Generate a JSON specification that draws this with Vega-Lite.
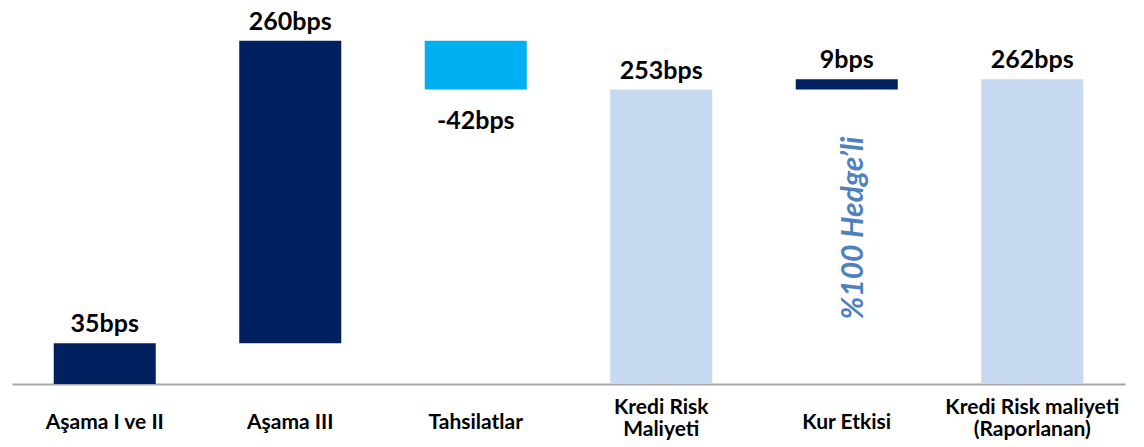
{
  "$schema": "https://vega.github.io/schema/vega-lite/v6.json",
  "autosize": "none",
  "width": 1113,
  "height": 384,
  "padding": {"left": 12, "top": 0, "right": 19, "bottom": 63},
  "background": "white",
  "config": {
    "view": {"stroke": null},
    "font": "Lato"
  },
  "datasets": {
    "steps": [
      {"cat": "Aşama I ve II", "start": 0, "end": 35, "value": 35, "kind": "change"},
      {"cat": "Aşama III", "start": 35, "end": 295, "value": 260, "kind": "change"},
      {"cat": "Tahsilatlar", "start": 295, "end": 253, "value": -42, "kind": "recovery"},
      {"cat": "Kredi Risk\nMaliyeti", "start": 0, "end": 253, "value": 253, "kind": "total"},
      {"cat": "Kur Etkisi", "start": 253, "end": 262, "value": 9, "kind": "change"},
      {"cat": "Kredi Risk maliyeti\n(Raporlanan)", "start": 0, "end": 262, "value": 262, "kind": "total"}
    ],
    "notes": [
      {"cat": "Kur Etkisi", "note": "%100 Hedge’li", "at": 134}
    ]
  },
  "data": {"name": "steps"},
  "transform": [{"calculate": "datum.value + 'bps'", "as": "label"}],
  "encoding": {
    "x": {
      "field": "cat",
      "type": "nominal",
      "sort": null,
      "scale": {"paddingInner": 0.45, "paddingOuter": 0.225},
      "axis": {
        "title": null,
        "labelAngle": 0,
        "labelExpr": "split(datum.label, '\\n')",
        "labelFont": "Lato",
        "labelFontWeight": "bold",
        "labelFontSize": 21,
        "labelColor": "#000000",
        "labelBaseline": "middle",
        "labelPadding": {
          "condition": {"test": "indexof(datum.value, '\\n') >= 0", "value": 23},
          "value": 38
        },
        "labelLineHeight": 22,
        "labelLimit": 300,
        "ticks": false,
        "domainColor": "#a6a6a6",
        "domainWidth": 2,
        "grid": false
      }
    }
  },
  "layer": [
    {
      "mark": {"type": "bar"},
      "encoding": {
        "y": {
          "field": "start",
          "type": "quantitative",
          "scale": {"domain": [0, 330], "nice": false},
          "axis": null
        },
        "y2": {"field": "end"},
        "color": {
          "field": "kind",
          "type": "nominal",
          "scale": {
            "domain": ["change", "recovery", "total"],
            "range": ["#002060", "#00B0F0", "#C6D9F0"]
          },
          "legend": null
        }
      }
    },
    {
      "transform": [{"filter": "datum.value >= 0"}],
      "mark": {
        "type": "text",
        "baseline": "bottom",
        "dy": -6,
        "font": "Lato",
        "fontWeight": "bold",
        "fontSize": 25,
        "color": "#000000"
      },
      "encoding": {
        "y": {"field": "end", "type": "quantitative"},
        "text": {"field": "label"}
      }
    },
    {
      "transform": [{"filter": "datum.value < 0"}],
      "mark": {
        "type": "text",
        "baseline": "top",
        "dy": 19,
        "font": "Lato",
        "fontWeight": "bold",
        "fontSize": 25,
        "color": "#000000"
      },
      "encoding": {
        "y": {"field": "end", "type": "quantitative"},
        "text": {"field": "label"}
      }
    },
    {
      "data": {"name": "notes"},
      "mark": {
        "type": "text",
        "angle": 270,
        "baseline": "middle",
        "align": "center",
        "dy": 7,
        "font": "Lato",
        "fontWeight": "bold",
        "fontStyle": "italic",
        "fontSize": 30,
        "color": "#4F81BD"
      },
      "encoding": {
        "y": {"field": "at", "type": "quantitative"},
        "text": {"field": "note"}
      }
    }
  ]
}
